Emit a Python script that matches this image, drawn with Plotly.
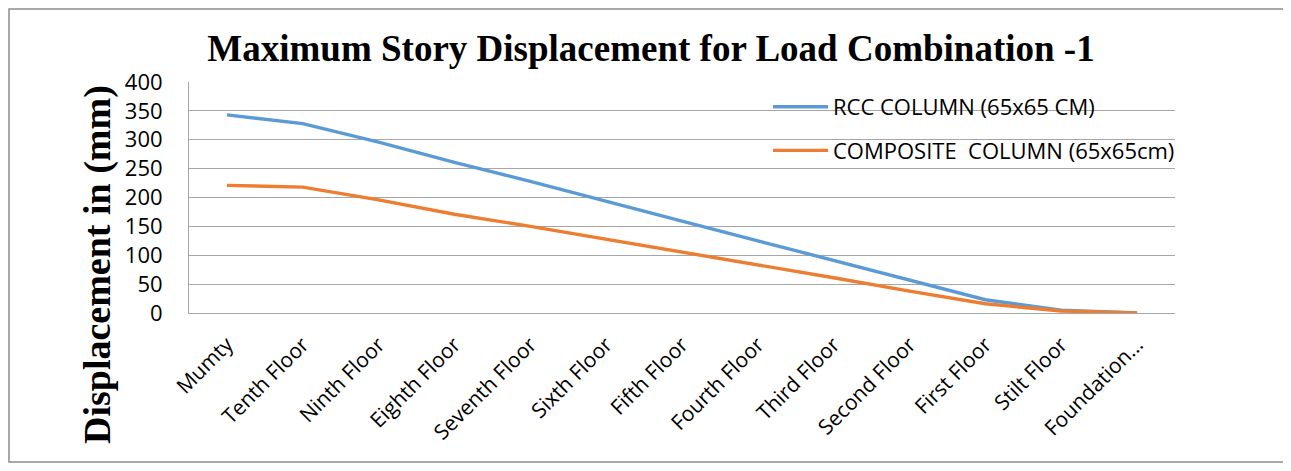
import plotly.graph_objects as go

floors = ["Mumty", "Tenth Floor", "Ninth Floor", "Eighth Floor", "Seventh Floor",
          "Sixth Floor", "Fifth Floor", "Fourth Floor", "Third Floor", "Second Floor",
          "First Floor", "Stilt Floor", "Foundation..."]
rcc_column = [343, 328, 296, 261, 228, 193, 159, 125, 91, 57, 23, 5, 0]
composite_column = [221, 218, 196, 171, 150, 128, 106, 83, 61, 38, 16, 3.5, 0]
y_ticks = [0, 50, 100, 150, 200, 250, 300, 350, 400]

# page body has an 8px margin; work in page pixels and offset
OFF = 8
W, H = 1291 - OFF, 471 - OFF
L, R, T, B = 189, 1175, 82, 313

def px_x(p):
    return (p - L) / (R - L)

def px_y(p):
    return (B - p) / (B - T)

fig = go.Figure()
fig.add_trace(go.Scatter(x=floors, y=rcc_column, mode="lines", name="RCC COLUMN (65x65 CM)",
                         line=dict(color="#5B9BD5", width=3.4), legendgroup="a"))
fig.add_trace(go.Scatter(x=floors, y=composite_column, mode="lines", name="COMPOSITE  COLUMN (65x65cm)",
                         line=dict(color="#ED7D31", width=3.4), legendgroup="b"))

fig.update_layout(
    width=W, height=H,
    margin=dict(l=L - OFF, r=1291 - R, t=T - OFF, b=471 - B),
    paper_bgcolor="white", plot_bgcolor="white",
    title=dict(text="<b>Maximum Story Displacement for Load Combination -1</b>",
               x=(651 - OFF) / W, xanchor="center", y=1 - (48 - OFF) / H, yanchor="middle",
               font=dict(family="Liberation Serif", size=37, color="black")),
    font=dict(family="Open Sans", color="black"),
    legend=dict(x=px_x(768), y=px_y(86), xanchor="left", yanchor="top",
                bgcolor="rgba(0,0,0,0)", font=dict(size=22, family="Open Sans"),
                traceorder="grouped", tracegroupgap=12, itemwidth=55),
    showlegend=True,
)
fig.update_xaxes(range=[-0.5, len(floors) - 0.5], showgrid=False, showline=True,
                 linecolor="#a6a6a6", linewidth=1,
                 tickangle=-45, tickfont=dict(size=21, family="Open Sans"),
                 ticks="", ticklabelstandoff=10)
fig.update_yaxes(range=[0, 400], tickvals=y_ticks, showgrid=True, gridcolor="#a6a6a6",
                 gridwidth=1, showline=True, linecolor="#a6a6a6", linewidth=1,
                 zeroline=False, tickfont=dict(size=22, family="Open Sans"),
                 ticks="", ticklabelstandoff=21)

fig.add_annotation(text="<b>Displacement in (mm)</b>", textangle=-90,
                   xref="paper", yref="paper", x=px_x(97), y=px_y(265),
                   xanchor="center", yanchor="middle", showarrow=False,
                   font=dict(family="Liberation Serif", size=38, color="black"))

fig.add_shape(type="rect", xref="paper", yref="paper",
              x0=px_x(9), x1=px_x(1287), y0=px_y(462), y1=px_y(9),
              line=dict(color="#8c8c8c", width=1.5), layer="below")

fig.write_html("out.html")
